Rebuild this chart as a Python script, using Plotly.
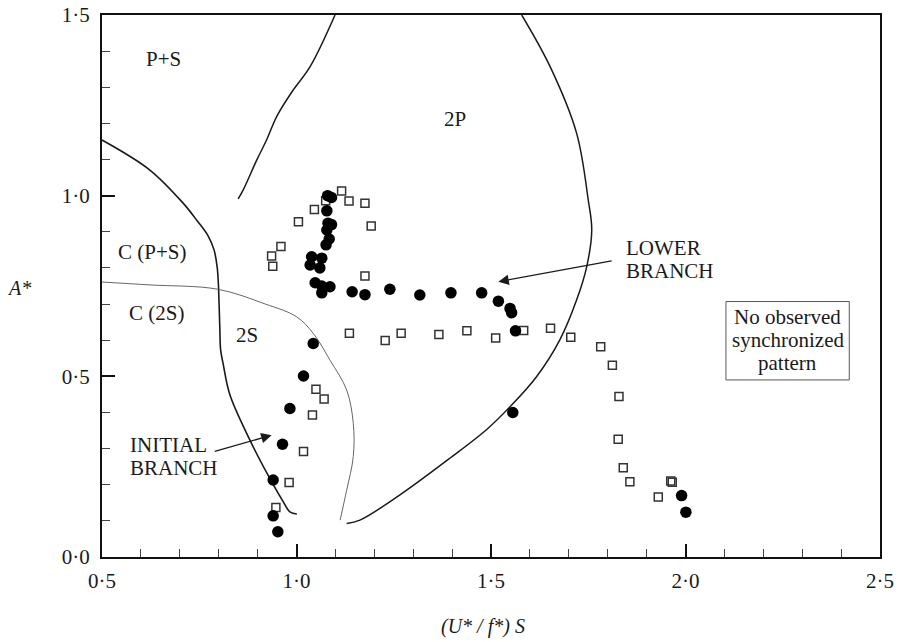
import plotly.graph_objects as go

# ---------------- data ----------------
circle_x = [1.080, 1.090, 1.078, 1.081, 1.090, 1.078, 1.084, 1.076, 1.039, 1.065, 1.035, 1.060,
            1.048, 1.065, 1.086, 1.065, 1.143, 1.176, 1.240, 1.317, 1.397, 1.476, 1.519, 1.549,
            1.553, 1.563, 1.043, 1.018, 0.983, 0.964, 0.940, 0.940, 0.952, 1.556, 1.990, 2.001]
circle_y = [1.000, 0.995, 0.958, 0.924, 0.920, 0.905, 0.880, 0.864, 0.831, 0.827, 0.808, 0.800,
            0.759, 0.750, 0.748, 0.731, 0.734, 0.726, 0.741, 0.725, 0.731, 0.731, 0.708, 0.688,
            0.676, 0.626, 0.591, 0.501, 0.411, 0.312, 0.213, 0.114, 0.070, 0.400, 0.170, 0.124]

square_x = [1.116, 1.075, 1.135, 1.176, 1.046, 1.005, 1.192, 0.960, 0.936, 0.939, 1.176, 1.136,
            1.228, 1.269, 1.366, 1.438, 1.512, 1.584, 1.653, 1.705, 1.782, 1.812, 1.829, 1.827,
            1.840, 1.857, 1.966, 1.962, 1.930, 1.050, 1.071, 1.041, 1.018, 0.981, 0.947]
square_y = [1.013, 0.986, 0.985, 0.979, 0.962, 0.928, 0.916, 0.859, 0.833, 0.805, 0.778, 0.619,
            0.599, 0.619, 0.616, 0.626, 0.606, 0.627, 0.633, 0.608, 0.582, 0.531, 0.444, 0.326,
            0.247, 0.208, 0.207, 0.210, 0.166, 0.464, 0.437, 0.393, 0.292, 0.206, 0.137]

# regime boundaries
b1_x = [0.500, 0.623, 0.708, 0.745, 0.772, 0.788, 0.796, 0.799, 0.801, 0.803, 0.805, 0.811, 0.829, 0.880, 0.924, 0.963, 0.983, 1.001]
b1_y = [1.154, 1.071, 0.980, 0.930, 0.890, 0.850, 0.803, 0.760, 0.700, 0.628, 0.573, 0.537, 0.448, 0.324, 0.232, 0.158, 0.125, 0.119]

b2_x = [0.500, 0.623, 0.798, 0.920, 1.000, 1.043, 1.086, 1.129, 1.146, 1.146, 1.129, 1.112]
b2_y = [0.761, 0.753, 0.741, 0.700, 0.665, 0.619, 0.545, 0.462, 0.370, 0.278, 0.185, 0.102]

b3_x = [0.850, 0.863, 0.898, 0.923, 0.949, 0.988, 1.035, 1.099]
b3_y = [0.991, 1.016, 1.099, 1.154, 1.219, 1.287, 1.357, 1.500]

b4_x = [1.579, 1.652, 1.720, 1.750, 1.759, 1.746, 1.720, 1.677, 1.617, 1.549, 1.489, 1.395, 1.266, 1.163, 1.129]
b4_y = [1.500, 1.357, 1.173, 0.988, 0.905, 0.803, 0.711, 0.601, 0.499, 0.416, 0.353, 0.274, 0.172, 0.102, 0.093]

x_tickvals = [0.5, 1.0, 1.5, 2.0, 2.5]
x_ticktext = ["0·5", "1·0", "1·5", "2·0", "2·5"]
y_tickvals = [0.0, 0.5, 1.0, 1.5]
y_ticktext = ["0·0", "0·5", "1·0", "1·5"]

FONT = "Liberation Serif"
INK = "#1a1a1a"
FS = 21

fig = go.Figure()
for bx, by, w, c in [(b1_x, b1_y, 1.6, INK), (b2_x, b2_y, 0.9, "#555555"),
                     (b3_x, b3_y, 1.5, INK), (b4_x, b4_y, 1.5, INK)]:
    fig.add_trace(go.Scatter(x=bx, y=by, mode="lines", line=dict(color=c, width=w, shape="spline", smoothing=1.0),
                             showlegend=False, hoverinfo="skip"))

fig.add_trace(go.Scatter(x=square_x, y=square_y, mode="markers",
                         marker=dict(symbol="square-open", size=8, color="#333333", line=dict(width=1.5, color="#333333")),
                         showlegend=False))
fig.add_trace(go.Scatter(x=circle_x, y=circle_y, mode="markers",
                         marker=dict(symbol="circle", size=11.5, color="#000000"),
                         showlegend=False))

tf = dict(family=FONT, size=FS, color=INK)
labels = [
    ("P+S", 0.657, 1.378, "center"),
    ("2P", 1.407, 1.211, "center"),
    ("C (P+S)", 0.628, 0.845, "center"),
    ("C (2S)", 0.641, 0.674, "center"),
    ("2S", 0.872, 0.614, "center"),
    ("INITIAL", 0.567, 0.3086, "left"),
    ("BRANCH", 0.567, 0.2450, "left"),
    ("LOWER", 1.842, 0.856, "left"),
    ("BRANCH", 1.842, 0.792, "left"),
    ("No observed", 2.263, 0.665, "center"),
    ("synchronized", 2.263, 0.601, "center"),
    ("pattern", 2.263, 0.536, "center"),
]
for t, x, y, xa in labels:
    fig.add_annotation(x=x, y=y, xref="x", yref="y", text=t, showarrow=False, font=tf,
                       xanchor=xa, yanchor="middle")

# box around "No observed synchronized pattern"
fig.add_shape(type="rect", xref="x", yref="y", x0=2.104, x1=2.421, y0=0.490, y1=0.707,
              line=dict(color="#555555", width=1))

# arrows
fig.add_annotation(x=0.936, y=0.337, ax=0.786, ay=0.291, xref="x", yref="y", axref="x", ayref="y",
                   text="", showarrow=True, arrowhead=2, arrowsize=1.6, arrowwidth=1.3, arrowcolor=INK)
fig.add_annotation(x=1.519, y=0.762, ax=1.814, ay=0.820, xref="x", yref="y", axref="x", ayref="y",
                   text="", showarrow=True, arrowhead=2, arrowsize=1.6, arrowwidth=1.3, arrowcolor=INK)

# axis titles
fig.add_annotation(x=-0.107, y=0.496, xref="paper", yref="paper", text="<i>A*</i>", showarrow=False,
                   xanchor="center", yanchor="middle", font=dict(family=FONT, size=20, color=INK))
fig.add_annotation(x=0.49, y=-0.129, xref="paper", yref="paper", text="<i>(U* / f*) S</i>", showarrow=False,
                   xanchor="center", yanchor="middle", font=dict(family=FONT, size=20, color=INK))

axis_common = dict(showgrid=False, zeroline=False, showline=True, linecolor="#111111", linewidth=2,
                   mirror=True, ticks="inside", ticklen=13, tickwidth=2, tickcolor="#111111",
                   automargin=False, tickfont=dict(family=FONT, size=FS, color=INK))
fig.update_xaxes(range=[0.5, 2.5], tickvals=x_tickvals, ticktext=x_ticktext, ticklabelstandoff=4,
                 minor=dict(ticks="inside", ticklen=8, tickwidth=1, tickcolor="#444444", dtick=0.1, tick0=0.5),
                 **axis_common)
fig.update_yaxes(range=[0.0, 1.5], tickvals=y_tickvals, ticktext=y_ticktext, ticklabelstandoff=6,
                 minor=dict(ticks="inside", ticklen=8, tickwidth=1, tickcolor="#444444", dtick=0.1, tick0=0.0),
                 **axis_common)

fig.update_layout(width=901, height=642, margin=dict(l=102, r=21, t=15, b=85),
                  plot_bgcolor="white", paper_bgcolor="white", showlegend=False)

fig.write_html("out.html")
